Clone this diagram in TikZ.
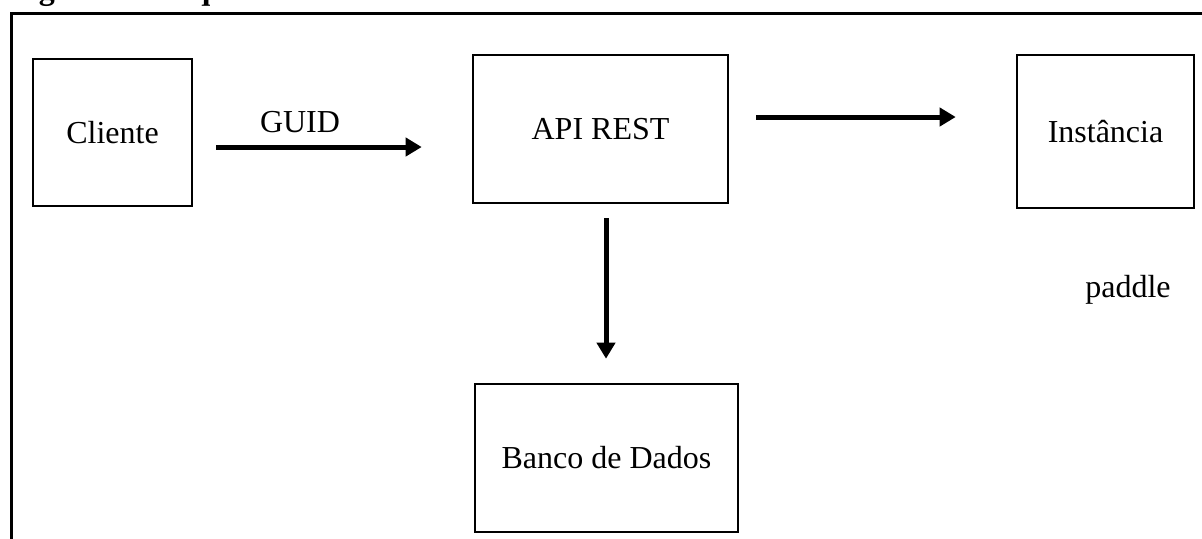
\documentclass[tikz,border=0pt]{standalone}
\usepackage{fontspec}
\setmainfont{Liberation Serif}
\usetikzlibrary{arrows.meta,calc}
\begin{document}
\begin{tikzpicture}[x=0.5pt,y=-0.5pt,
  txt/.style={font=\fontsize{16}{19}\selectfont, inner sep=0pt},
  box/.style={txt, draw, line width=1.3pt, rectangle},
  arr/.style={line width=2.5pt, -{Triangle[length=8pt,width=9pt]}},
  frame/.style={line width=1.5pt}]
\clip (0,0) rectangle (1202,538);
% caption (cut off at the top edge)
\node[font=\fontsize{16}{19}\selectfont\bfseries, inner sep=0pt, anchor=base west] (cap) at (10,-1) {Figura 1 – Esquema};
% outer frame
\draw[frame] (11,560) -- (11,13.5) -- (1220,13.5);
% boxes
\node[box, minimum width=79.5pt, minimum height=73.5pt] (cliente) at (112.5,132.5) {Cliente};
\node[box, minimum width=127.5pt, minimum height=74pt] (api) at (600.5,129) {API REST};
\node[box, minimum width=88.5pt, minimum height=76.5pt] (inst) at (1105.5,131.5) {Instância};
\node[box, minimum width=131.5pt, minimum height=74pt] (banco) at (606.5,458) {Banco de Dados};
% labels
\node[txt] (guid) at (300,122) {GUID};
\node[txt, anchor=base] (paddle) at (1128,297) {paddle};
% connectors
\draw[arr] ($(cliente.east)+(23,14.5)$) -- ($(api.west)+(-50,18)$);
\draw[arr] ($(api.east)+(27,-12)$) -- ($(inst.west)+(-60,-14.5)$);
\draw[arr] ($(api.south)+(5.5,14)$) -- ($(banco.north)+(-0.5,-24)$);
\end{tikzpicture}
\end{document}
